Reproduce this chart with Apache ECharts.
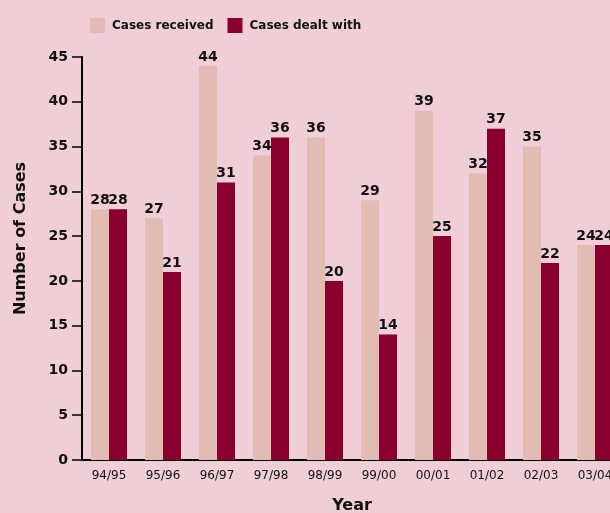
<!DOCTYPE html>
<html><head><meta charset="utf-8">
<script src="https://cdn.jsdelivr.net/npm/echarts@6/dist/echarts.min.js"></script>
<style>html,body{margin:0;padding:0;background:#f0ced8;}#c{width:610px;height:513px;}</style>
</head><body><div id="c"></div>
<script>
const categories = ['94/95','95/96','96/97','97/98','98/99','99/00','00/01','01/02','02/03','03/04'];
const casesReceived = [28,27,44,34,36,29,39,32,35,24];
const casesDealtWith = [28,21,31,36,20,14,25,37,22,24];
const yTicks = [0,5,10,15,20,25,30,35,40,45];

const font = '"DejaVu Sans", sans-serif';
const chart = echarts.init(document.getElementById('c'));
chart.setOption({
  backgroundColor: '#f0ced8',
  animation: false,
  textStyle: { fontFamily: font },
  legend: {
    left: 85, top: 13, itemWidth: 15, itemHeight: 15, itemGap: 14, icon: 'rect',
    textStyle: { fontFamily: font, fontWeight: 'bold', fontSize: 12, color: '#111', padding: [0, 0, 0, 2] },
    data: ['Cases received', 'Cases dealt with']
  },
  grid: { left: 82, top: 57, width: 540, height: 403, containLabel: false, outerBoundsMode: 'none' },
  xAxis: {
    type: 'category', data: categories,
    name: 'Year', nameLocation: 'middle', nameGap: 38,
    nameTextStyle: { fontFamily: font, fontWeight: 'bold', fontSize: 16, color: '#111' },
    axisLine: { lineStyle: { color: '#000', width: 2 } },
    axisTick: { show: false },
    axisLabel: { fontFamily: font, fontSize: 12, color: '#111', margin: 10 }
  },
  yAxis: {
    type: 'value', min: 0, max: 45, interval: 5,
    name: 'Number of Cases', nameLocation: 'middle', nameGap: 53, nameRotate: 90,
    nameTextStyle: { fontFamily: font, fontWeight: 'bold', fontSize: 16, color: '#111', padding: [0, 0, 0, 40] },
    axisLine: { show: true, lineStyle: { color: '#000', width: 2 } },
    axisTick: { show: true, length: 10, lineStyle: { color: '#000', width: 1.5 } },
    splitLine: { show: false },
    axisLabel: { fontFamily: font, fontWeight: 'bold', fontSize: 14, color: '#111', margin: 14,
      formatter: v => yTicks.includes(v) ? String(v) : '' }
  },
  series: [
    { name: 'Cases received', type: 'bar', data: casesReceived, barWidth: 18, barGap: '0%',
      itemStyle: { color: '#e0bcb2' },
      label: { show: true, position: 'top', distance: 2, fontFamily: font, fontWeight: 'bold', fontSize: 14, color: '#111' } },
    { name: 'Cases dealt with', type: 'bar', data: casesDealtWith, barWidth: 18, barGap: '0%',
      itemStyle: { color: '#8a002e' },
      label: { show: true, position: 'top', distance: 2, fontFamily: font, fontWeight: 'bold', fontSize: 14, color: '#111' } }
  ]
});
</script></body></html>
